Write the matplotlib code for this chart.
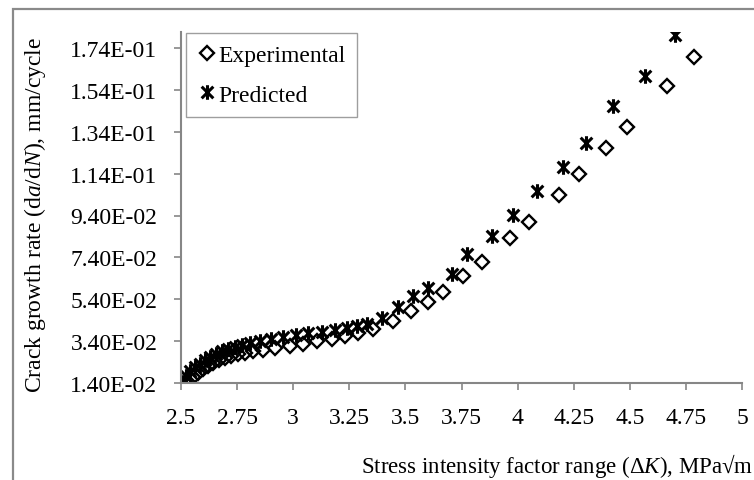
import matplotlib
matplotlib.use("Agg")
import matplotlib.pyplot as plt
from matplotlib.path import Path
from matplotlib.patches import Rectangle
from matplotlib.ticker import FixedLocator, FuncFormatter

plt.rcParams['font.family'] = ['Liberation Serif', 'DejaVu Serif']
plt.rcParams['mathtext.fontset'] = 'custom'
plt.rcParams['mathtext.rm'] = 'Liberation Serif'
plt.rcParams['mathtext.it'] = 'Liberation Serif:italic'

# Experimental (diamonds)
exp_dk = [2.531, 2.553, 2.576, 2.598, 2.620, 2.643, 2.669, 2.696, 2.723, 2.754,
          2.785, 2.821, 2.865, 2.919, 2.986, 3.044, 3.106, 3.173, 3.231, 3.289,
          3.356, 3.445, 3.525, 3.601, 3.668, 3.757, 3.841, 3.966, 4.051, 4.184,
          4.274, 4.394, 4.488, 4.666, 4.786]
exp_rate = [0.0145, 0.0169, 0.0188, 0.0207, 0.0221, 0.0236, 0.0250, 0.0259, 0.0269, 0.0279,
            0.0283, 0.0293, 0.0298, 0.0307, 0.0317, 0.0326, 0.0341, 0.0350, 0.0364, 0.0379,
            0.0398, 0.0436, 0.0484, 0.0527, 0.0575, 0.0651, 0.0718, 0.0833, 0.0909, 0.1038,
            0.1138, 0.1262, 0.1363, 0.1558, 0.1697]

# Predicted (asterisks)
pred_dk = [2.504, 2.522, 2.540, 2.562, 2.585, 2.607, 2.629, 2.656, 2.683, 2.709,
           2.741, 2.772, 2.807, 2.852, 2.901, 2.955, 3.012, 3.066, 3.128, 3.186,
           3.240, 3.284, 3.329, 3.396, 3.467, 3.534, 3.601, 3.708, 3.775, 3.886,
           3.980, 4.086, 4.202, 4.305, 4.425, 4.568, 4.701]
pred_rate = [0.0145, 0.0173, 0.0197, 0.0216, 0.0231, 0.0250, 0.0264, 0.0279, 0.0293, 0.0302,
             0.0312, 0.0321, 0.0331, 0.0341, 0.0350, 0.0360, 0.0369, 0.0379, 0.0384, 0.0393,
             0.0403, 0.0412, 0.0422, 0.0450, 0.0503, 0.0555, 0.0594, 0.0661, 0.0756, 0.0842,
             0.0942, 0.1057, 0.1172, 0.1286, 0.1463, 0.1606, 0.1802]

x_ticks = [2.5, 2.75, 3, 3.25, 3.5, 3.75, 4, 4.25, 4.5, 4.75, 5]
y_ticks = [0.014, 0.034, 0.054, 0.074, 0.094, 0.114, 0.134, 0.154, 0.174]

W, H = 754, 481
fig = plt.figure(figsize=(W / 100, H / 100), dpi=100)
fig.patch.set_facecolor('white')

# outer chart frame (cropped at right/bottom)
fig.patches.append(Rectangle((13 / W, -0.1), 1.2, 1 - 10 / H + 0.1,
                             transform=fig.transFigure, fill=False,
                             edgecolor='#8a8a8a', linewidth=1.6))

ax = fig.add_axes([181 / W, 1 - 384 / H, (742 - 181) / W, (384 - 33) / H])

grey = '#868686'
ast_path = Path([(0, -1), (0, 1), (-0.8, -0.8), (0.8, 0.8), (-0.8, 0.8), (0.8, -0.8)],
                [Path.MOVETO, Path.LINETO, Path.MOVETO, Path.LINETO, Path.MOVETO, Path.LINETO])

ax.plot(exp_dk, exp_rate, linestyle='none', marker='D', markersize=7.0,
        markerfacecolor='none', markeredgecolor='black', markeredgewidth=1.7,
        label='Experimental')
ax.plot(pred_dk, pred_rate, linestyle='none', marker=ast_path, markersize=10.5,
        markerfacecolor='none', markeredgecolor='black', markeredgewidth=2.2,
        label='Predicted')

ax.set_xlim(2.5, 5)
ax.set_ylim(0.014, 0.014 + (384 - 33) * 0.16 / 335)
ax.xaxis.set_major_locator(FixedLocator(x_ticks))
ax.yaxis.set_major_locator(FixedLocator(y_ticks))
ax.xaxis.set_major_formatter(FuncFormatter(lambda v, p: f"{v:g}"))
ax.yaxis.set_major_formatter(FuncFormatter(lambda v, p: f"{v:.2E}"))

for s in ['top', 'right']:
    ax.spines[s].set_visible(False)
for s in ['left', 'bottom']:
    ax.spines[s].set_color(grey)
    ax.spines[s].set_linewidth(1.5)

ax.tick_params(axis='both', direction='out', length=5, width=1.2, color=grey,
               labelsize=17, labelcolor='black', pad=12)

fig.text(35 / W, 1 - 215 / H, 'Crack growth rate (d$a$/d$N$), mm/cycle',
         rotation=90, ha='center', va='center', fontsize=17)
fig.text(557 / W, 1 - 466 / H, 'Stress intensity factor range (Δ$K$), MPa√m',
         ha='center', va='center', fontsize=16.5)

leg = ax.legend(loc='upper left', bbox_to_anchor=(186 / W, 1 - 34 / H),
                bbox_transform=fig.transFigure, borderaxespad=0,
                frameon=True, fancybox=False, fontsize=17,
                handlelength=0.8, handletextpad=0.05, labelspacing=0.75,
                borderpad=0.5)
leg.get_frame().set_edgecolor(grey)
leg.get_frame().set_linewidth(1.0)

fig.savefig('out.png', dpi=100, facecolor='white')
